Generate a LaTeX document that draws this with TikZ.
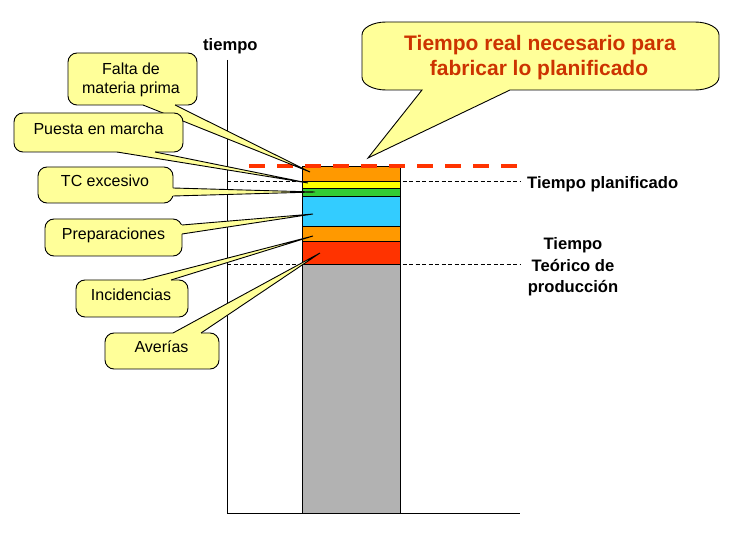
\documentclass[tikz,border=0pt]{standalone}
\usepackage{fontspec}
\setmainfont{Liberation Sans}
\definecolor{cfill}{RGB}{255,255,153}
\definecolor{segorange}{RGB}{255,153,0}
\definecolor{segyellow}{RGB}{255,255,0}
\definecolor{seggreen}{RGB}{51,204,51}
\definecolor{segblue}{RGB}{51,204,255}
\definecolor{segred}{RGB}{255,51,0}
\definecolor{seggray}{RGB}{178,178,178}
\definecolor{titlered}{RGB}{204,51,0}
\begin{document}
\begin{tikzpicture}[x=1pt,y=-1pt,
  cbox/.style={fill=cfill,draw=black,line width=0.9pt,rounded corners=9pt},
  cwedge/.style={fill=cfill},
  cline/.style={draw=black,line width=0.9pt},
  ctext/.style={inner sep=0pt,anchor=base,font=\fontsize{16}{19}\selectfont},
  btext/.style={inner sep=0pt,font=\fontsize{16.6}{19}\selectfont\bfseries},
  ttext/.style={inner sep=0pt,anchor=base,text=titlered,font=\fontsize{21}{25}\selectfont\bfseries},
  thindash/.style={line width=0.8pt,dash pattern=on 4pt off 2.5pt}]
\useasboundingbox (0,0) rectangle (750,553);
\fill[white] (0,0) rectangle (750,553);

% axes
\coordinate (axtop) at (227,60);
\coordinate (axorig) at (227,513);
\coordinate (axend) at (520,513);
\draw[line width=0.9pt] (axtop) -- (axorig) -- (axend);

% thin dashed reference lines
\coordinate (plA) at (227,181);
\coordinate (plB) at (520,181);
\coordinate (thA) at (227,264);
\coordinate (thB) at (520,264);
\draw[thindash] (plA) -- (plB);
\draw[thindash] (thA) -- (thB);

% bar
\fill[segorange] (302,166) rectangle (400,181);
\fill[segyellow] (302,181) rectangle (400,188);
\fill[seggreen]  (302,188) rectangle (400,196);
\fill[segblue]   (302,196) rectangle (400,226);
\fill[segorange] (302,226) rectangle (400,241);
\fill[segred]    (302,241) rectangle (400,264);
\fill[seggray]   (302,264) rectangle (400,513);
\draw[line width=0.9pt] (302,166) rectangle (400,513);
\foreach \yy in {181,188,196,226,241,264}
  \draw[line width=0.9pt] (302,\yy) -- (400,\yy);

% red dashed line
\coordinate (rdA) at (249,166);
\coordinate (rdB) at (518,166);
\draw[segred,line width=4pt,dash pattern=on 16pt off 12pt] (rdA) -- (rdB);

% labels
\node[btext,anchor=base west] (tiempo) at (203,51) {tiempo};
\node[btext,anchor=base west] (planif) at (527,189) {Tiempo planificado};
\node[btext,anchor=base] (teo1) at (573,250) {Tiempo};
\node[btext,anchor=base] (teo2) at (573,272) {Teórico de};
\node[btext,anchor=base] (teo3) at (573,293) {producción};

% big callout
\filldraw[fill=cfill,draw=black,line width=0.9pt]
  (386,22) -- (695,22) .. controls (708.3,22) and (719,27.9) .. (719,35)
  -- (719,77) .. controls (719,84.1) and (708.3,90) .. (695,90)
  -- (510,90) -- (368,158) -- (422,90) -- (386,90)
  .. controls (372.7,90) and (362,84.1) .. (362,77)
  -- (362,35) .. controls (362,27.9) and (372.7,22) .. (386,22) -- cycle;
\node[ttext] (title1) at (540,51) {Tiempo real necesario para};
\node[ttext] (title2) at (539,76) {fabricar lo planificado};

% callout: Falta de materia prima
\filldraw[cbox] (68,53) rectangle (197,105);
\fill[cwedge] (143,101) -- (143,105) -- (310,172) -- (175,105) -- (175,101) -- cycle;
\draw[cline] (143,105) -- (310,172) -- (175,105);
\node[ctext] (falta1) at (131,75) {Falta de};
\node[ctext] (falta2) at (131,94) {materia prima};

% callout: Puesta en marcha
\filldraw[cbox] (14,113) rectangle (183,152);
\fill[cwedge] (117,148) -- (117,152) -- (308,183) -- (155,152) -- (155,148) -- cycle;
\draw[cline] (117,152) -- (308,183) -- (155,152);
\node[ctext] (puesta) at (98.5,135) {Puesta en marcha};

% callout: TC excesivo
\filldraw[cbox] (38,167) rectangle (173,203);
\fill[cwedge] (169,188) -- (173,188) -- (315,192) -- (173,196) -- (169,196) -- cycle;
\draw[cline] (173,188) -- (315,192) -- (173,196);
\node[ctext] (tc) at (105,187) {TC excesivo};

% callout: Preparaciones
\filldraw[cbox] (45,219) rectangle (182,256);
\fill[cwedge] (178,225) -- (182,225) -- (313,214) -- (182,234) -- (178,234) -- cycle;
\draw[cline] (182,225) -- (313,214) -- (182,234);
\node[ctext] (prep) at (113.5,240) {Preparaciones};

% callout: Incidencias
\filldraw[cbox] (76,280) rectangle (188,317);
\fill[cwedge] (143,284) -- (143,280) -- (313,236) -- (171,280) -- (171,284) -- cycle;
\draw[cline] (143,280) -- (313,236) -- (171,280);
\node[ctext] (incid) at (131,301) {Incidencias};

% callout: Averias
\filldraw[cbox] (105,333) rectangle (219,369);
\fill[cwedge] (173,337) -- (173,333) -- (320,253) -- (201,333) -- (201,337) -- cycle;
\draw[cline] (173,333) -- (320,253) -- (201,333);
\node[ctext] (aver) at (161.5,353) {Averías};
\end{tikzpicture}
\end{document}
